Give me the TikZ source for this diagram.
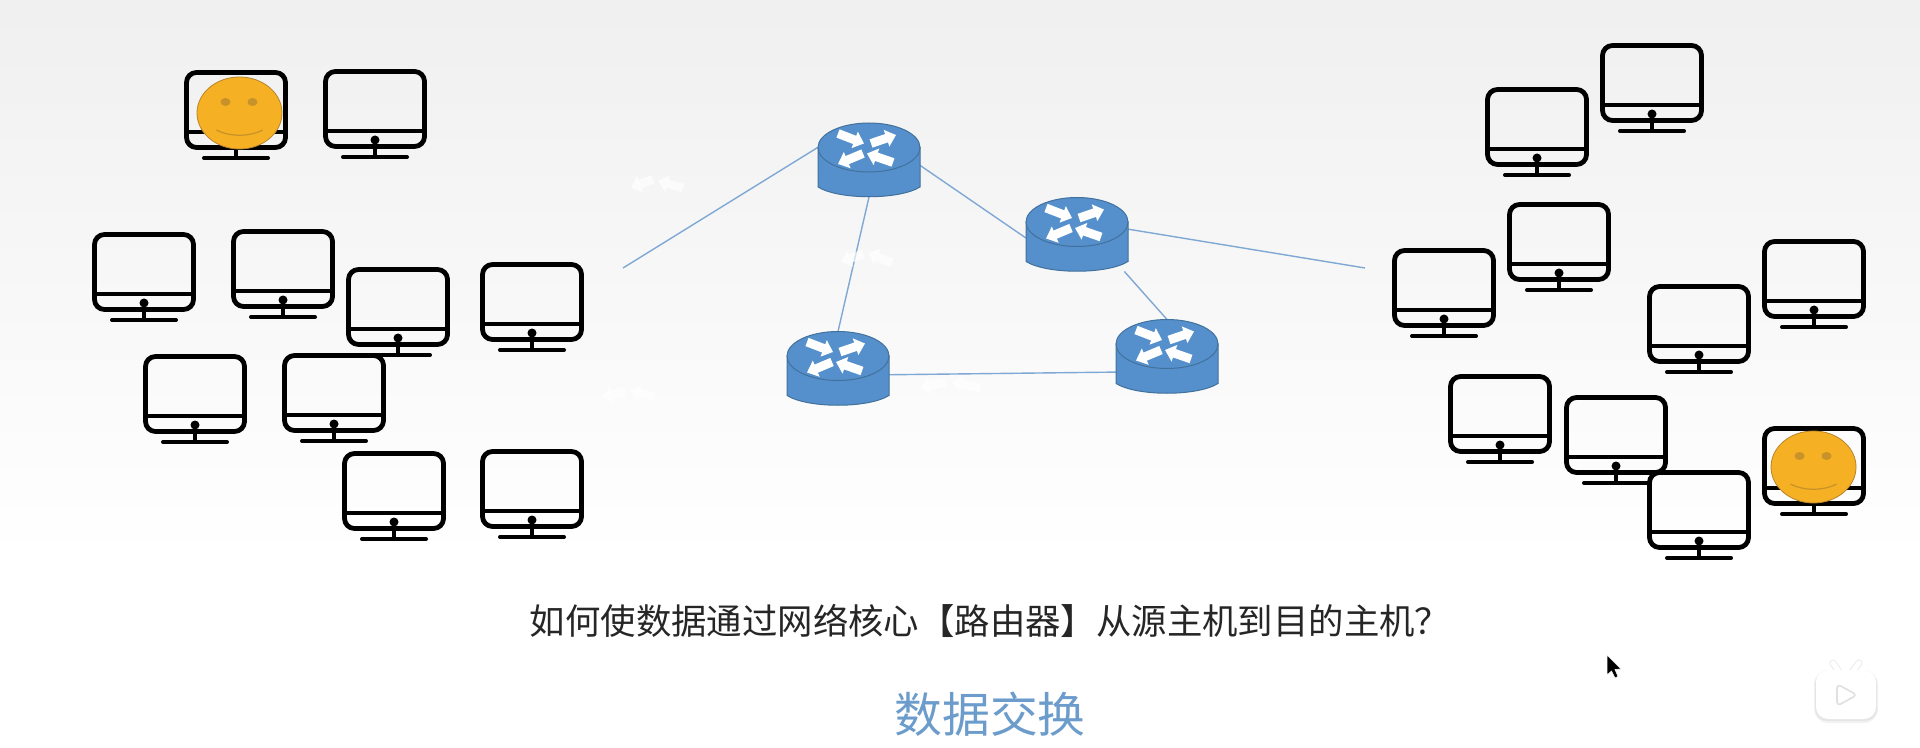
\documentclass[tikz,border=0pt]{standalone}
\usepackage{fontspec}
\newfontfamily\cjk{Noto Sans CJK SC}
\usetikzlibrary{arrows.meta,backgrounds}
\definecolor{rfill}{HTML}{5590CC}
\definecolor{rline}{HTML}{41719C}
\definecolor{link}{HTML}{7FA8D4}
\definecolor{face}{HTML}{F5B024}
\definecolor{faceline}{HTML}{B8842A}
\definecolor{eye}{HTML}{C8922A}
\definecolor{title}{HTML}{6C9CCB}
\tikzset{
  monline/.style={draw=black,line width=2.4pt,line cap=round},
  blockarrow/.style={white,line width=4.4pt,-{Triangle[width=8.5pt,length=5pt]}},
  ghostarrow/.style={blockarrow,opacity=0.65},
  linkline/.style={draw=link,line width=0.7pt},
  routerbox/.style={minimum width=51pt,minimum height=37pt,inner sep=0pt,outer sep=0pt},
  monitor/.pic={
    \draw[monline,rounded corners=5pt] (2.5,2.5) rectangle (101.5,77.5);
    \draw[monline] (2.5,62) -- (101.5,62);
    \fill[black] (52,71) circle [x radius=4.5,y radius=4.5];
    \draw[monline,line cap=butt] (52,77.5) -- (52,88);
    \draw[monline,line width=2pt] (20,88) -- (84,88);
  },
  router/.pic={
    \path[fill=rfill,draw=rline,line width=0.5pt] (-51,-12.5) -- (-51,27)
      .. controls (-30,40) and (30,40) .. (51,27) -- (51,-12.5) -- cycle;
    \path[fill=rfill,draw=rline,line width=0.5pt] (0,-12.5) circle [x radius=51,y radius=24.5];
    \draw[blockarrow] (-31,-26.5) -- (-5,-16.5);
    \draw[blockarrow] (2,-16.5) -- (27,-25);
    \draw[blockarrow] (-6,-6.5) -- (-31,4);
    \draw[blockarrow] (24,2.5) -- (-2,-6.5);
  },
  smiley/.pic={
    \path[fill=face,draw=faceline,line width=0.4pt] (0,0) circle [x radius=42.5,y radius=36];
    \fill[eye] (-14,-11) circle [x radius=5,y radius=4];
    \fill[eye] (13,-11) circle [x radius=5,y radius=4];
    \draw[eye,line width=0.6pt] (-23,17) .. controls (-10,24) and (10,24) .. (23,17);
  }
}
\begin{document}
\begin{tikzpicture}[x=0.5pt,y=-0.5pt]
\useasboundingbox (0,0) rectangle (1920,748);
\node[routerbox] (r1) at (869,160) {};
\node[routerbox] (r2) at (1077,234.5) {};
\node[routerbox] (r3) at (838,368.5) {};
\node[routerbox] (r4) at (1167,356.5) {};
\coordinate (fl) at (623,268);
\coordinate (fr) at (1365,268);
\begin{pgfonlayer}{background}
  \fill[top color=black!6,bottom color=white] (0,0) rectangle (1920,560);
  \fill[white] (0,560) rectangle (1920,748);
  \draw[linkline] (fl) -- (r1.166);
  \draw[linkline] (r1.354) -- (r2.184);
  \draw[linkline] (r1.south) -- (r3.north);
  \draw[linkline] (r2.6) -- (fr);
  \draw[linkline] (r2.322) -- (r4.north);
  \draw[linkline] (r3.353) -- (r4.197.6);
\end{pgfonlayer}
\foreach \n in {r1,r2,r3,r4} \pic at (\n.center) {router};
% ghost arrows
\draw[ghostarrow] (653,179) -- (631,188);
\draw[ghostarrow] (683,188) -- (658,181);
\draw[ghostarrow] (863,254) -- (841,262);
\draw[ghostarrow] (892,263) -- (868,253);
\draw[ghostarrow] (625,392) -- (602,397);
\draw[ghostarrow] (654,397) -- (630,390);
\draw[ghostarrow] (945,382) -- (920,388);
\draw[ghostarrow] (980,388) -- (952,382);
% monitors
\foreach \x/\y in {184/70,323/69,92/232,231/229,346/267,480/262,143/354,282/353,342/451,480/449,
  1600/43,1485/87,1507/202,1392/248,1762/239,1647/284,1448/374,1564/395,1647/470,1762/426}
  \pic at (\x,\y) {monitor};
\pic at (239.5,113) {smiley};
\pic at (1813.5,467) {smiley};
% texts
\node[inner sep=0pt,font=\cjk\fontsize{17.7pt}{20pt}\selectfont,text=black!85] (q) at (990,621) {如何使数据通过网络核心【路由器】从源主机到目的主机？};
\node[inner sep=0pt,font=\cjk\fontsize{23.9pt}{26pt}\selectfont,text=title] (t) at (990,714) {数据交换};
% cursor
\path[fill=black,draw=white,line width=0.3pt] (1607,655) -- (1607,675) -- (1611.5,671) -- (1615,678) -- (1618,676.5) -- (1615,669.5) -- (1621,669) -- cycle;
% player badge
\fill[black!5,rounded corners=7pt] (1814,670) rectangle (1878,723);
\fill[black!10,rounded corners=6pt] (1815,672) rectangle (1877,721);
\draw[black!8,line width=3.5pt,line cap=round] (1833,663) -- (1839,672);
\draw[black!8,line width=3.5pt,line cap=round] (1859,663) -- (1852,672);
\draw[white,line width=2.5pt,line cap=round] (1833,663) -- (1839,672);
\draw[white,line width=2.5pt,line cap=round] (1859,663) -- (1852,672);
\fill[white,rounded corners=6pt] (1816,670) rectangle (1876,719);
\path[fill=white,draw=black!12,line width=0.8pt,line join=round,rounded corners=2pt] (1837,684) -- (1857,695) -- (1837,706) -- cycle;
\end{tikzpicture}
\end{document}
